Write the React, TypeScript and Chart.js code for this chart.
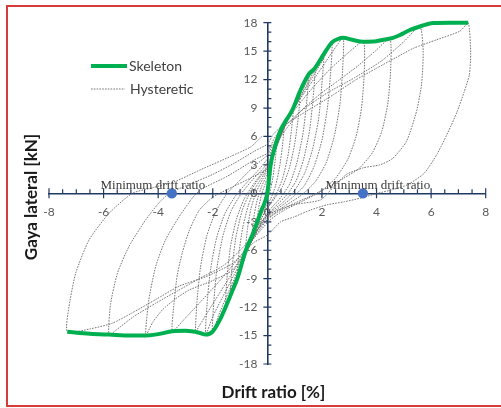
import React, { useEffect, useRef } from "react";
import { Chart, registerables } from "chart.js";

Chart.register(...registerables);

// ---------------- Data ----------------
const skeletonX = [
  -7.33, -6.5, -5.8, -5.0, -4.46, -4.0, -3.48, -3.0, -2.5, -2.26,
  -2.01, -1.75, -1.53, -1.3, -1.1, -0.79, -0.55, -0.37, -0.22, -0.1,
  0, 0.05, 0.12, 0.22, 0.35, 0.46, 0.62, 0.8, 0.95, 1.2,
  1.5, 1.74, 2.05, 2.36, 2.6, 2.78, 3.1, 3.52, 4.0, 4.25,
  4.6, 4.86, 5.2, 5.59, 6.08, 6.7, 7.36,
];
const skeletonY = [
  -14.6, -14.8, -14.9, -15.0, -15.0, -14.85, -14.55, -14.5, -14.7, -14.9,
  -14.6, -13.4, -12.0, -10.4, -9.0, -6.0, -4.4, -3.0, -1.8, -1.0,
  0, 1.2, 3.0, 4.3, 5.6, 6.5, 7.4, 8.2, 9.0, 10.8,
  12.5, 13.2, 14.6, 15.9, 16.3, 16.4, 16.2, 16.0, 16.05, 16.2,
  16.4, 16.7, 17.2, 17.6, 17.97, 18.0, 18.0,
];

type Pt = [number, number];

const loopA: Pt[] = [[0,0],[0.06,1.6],[0.12,3.0],[0.09,1.8],[0.03,0.3],[-0.04,-0.6],[-0.1,-1.0],[-0.14,-1.5],[-0.1,-0.6],[-0.04,0.4],[0,1.0]];
const loopB: Pt[] = [[0,1.0],[0.12,2.6],[0.25,4.3],[0.35,5.6],[0.3,3.8],[0.2,1.6],[0.08,0.0],[-0.08,-1.0],[-0.22,-1.9],[-0.37,-3.0],[-0.32,-1.6],[-0.22,-0.2],[-0.08,1.0],[0,1.6]];
const loopC: Pt[] = [[0,1.6],[0.15,3.3],[0.3,4.8],[0.46,6.2],[0.62,7.4],[0.56,5.2],[0.45,2.8],[0.3,0.8],[0.12,-0.6],[-0.1,-1.6],[-0.3,-2.8],[-0.55,-4.4],[-0.5,-2.6],[-0.38,-0.8],[-0.2,0.8],[0,2.0]];
const loopD: Pt[] = [[0,2.0],[0.25,4.2],[0.5,6.1],[0.72,7.6],[0.95,9.0],[0.88,6.6],[0.75,3.9],[0.56,1.6],[0.35,0.1],[0.1,-1.1],[-0.15,-2.3],[-0.45,-4.0],[-0.79,-6.0],[-0.73,-3.8],[-0.6,-1.6],[-0.4,0.2],[-0.15,1.6],[0.05,2.6]];
const loopE: Pt[] = [[0.05,2.6],[0.35,5.2],[0.65,7.2],[0.95,9.1],[1.2,10.8],[1.14,8.2],[1.0,5.2],[0.8,2.6],[0.55,0.7],[0.25,-0.6],[-0.1,-2.0],[-0.45,-4.0],[-0.8,-6.6],[-1.1,-9.0],[-1.04,-6.3],[-0.9,-3.6],[-0.7,-1.3],[-0.45,0.5],[-0.15,1.9],[0.1,3.0]];
const loopF: Pt[] = [[0.1,3.0],[0.45,5.9],[0.8,8.2],[1.2,10.6],[1.5,12.5],[1.44,9.6],[1.3,6.2],[1.08,3.2],[0.82,1.0],[0.5,-0.4],[0.1,-1.7],[-0.3,-3.4],[-0.7,-5.8],[-1.05,-8.3],[-1.35,-10.7],[-1.29,-7.8],[-1.15,-4.6],[-0.92,-1.8],[-0.62,0.2],[-0.3,1.6],[0,2.7],[0.15,3.4]];
const loopG: Pt[] = [[0.15,3.4],[0.55,6.6],[1.0,9.3],[1.45,11.8],[1.74,13.2],[1.68,10.2],[1.55,6.7],[1.33,3.6],[1.05,1.3],[0.7,-0.2],[0.25,-1.5],[-0.2,-3.0],[-0.6,-5.2],[-1.0,-7.8],[-1.35,-10.3],[-1.53,-12.0],[-1.48,-9.0],[-1.35,-5.6],[-1.13,-2.7],[-0.85,-0.6],[-0.5,1.0],[-0.15,2.3],[0.1,3.3]];
const loopH: Pt[] = [[0.1,3.3],[0.55,6.5],[1.05,9.4],[1.55,12.0],[2.05,14.6],[2.0,11.6],[1.88,7.9],[1.66,4.7],[1.38,2.2],[1.0,0.3],[0.55,-1.0],[0.05,-2.2],[-0.4,-4.0],[-0.85,-6.7],[-1.3,-9.6],[-1.75,-12.6],[-2.01,-14.6],[-1.96,-11.4],[-1.84,-7.7],[-1.62,-4.4],[-1.32,-1.8],[-0.95,0.0],[-0.55,1.4],[-0.1,2.8],[0.1,3.6]];
const loopI: Pt[] = [[0.1,3.6],[0.55,6.6],[1.05,9.3],[1.6,12.0],[2.0,13.9],[2.36,15.9],[2.32,12.8],[2.2,9.0],[2.0,5.6],[1.72,2.9],[1.35,0.8],[0.85,-0.6],[0.3,-1.8],[-0.2,-3.2],[-0.65,-5.4],[-1.15,-8.2],[-1.65,-11.0],[-2.0,-13.0],[-2.26,-14.9],[-2.21,-11.7],[-2.08,-8.0],[-1.86,-4.7],[-1.55,-2.1],[-1.15,-0.2],[-0.7,1.3],[-0.25,2.7],[0.05,3.8]];
const loopJ: Pt[] = [[0.05,3.8],[0.45,6.4],[0.95,8.9],[1.5,11.2],[2.05,13.5],[2.45,15.2],[2.78,16.4],[2.76,13.2],[2.66,9.4],[2.45,6.0],[2.15,3.2],[1.75,1.2],[1.2,-0.3],[0.6,-1.4],[0.05,-2.6],[-0.45,-4.5],[-1.0,-7.1],[-1.55,-9.6],[-2.05,-11.9],[-2.5,-14.0],[-2.63,-14.6],[-2.58,-11.5],[-2.45,-7.8],[-2.22,-4.5],[-1.9,-2.0],[-1.5,-0.1],[-1.0,1.4],[-0.5,2.8],[0,4.0]];
const loopK: Pt[] = [[0,4.0],[0.45,6.4],[1.0,8.8],[1.65,11.1],[2.3,13.1],[2.95,14.8],[3.52,16.0],[3.55,12.8],[3.45,9.0],[3.25,6.0],[2.95,3.6],[2.5,1.6],[1.95,0.2],[1.3,-0.8],[0.6,-1.8],[0.1,-2.8],[-0.45,-4.6],[-1.1,-7.0],[-1.8,-9.4],[-2.5,-11.6],[-3.05,-13.3],[-3.48,-14.55],[-3.42,-11.6],[-3.3,-8.6],[-3.11,-6.2],[-2.87,-4.0],[-2.5,-1.8],[-2.0,-0.4],[-1.47,0.4],[-0.49,1.8],[0,2.6],[0.1,3.2]];
const loopL: Pt[] = [[0.1,3.2],[0.5,6.0],[1.2,8.6],[1.9,10.4],[2.6,11.9],[3.3,13.4],[3.95,15.0],[4.49,16.3],[4.52,13.2],[4.42,9.6],[4.2,6.6],[3.85,4.3],[3.35,2.6],[2.8,1.6],[2.2,0.6],[1.5,-0.4],[0.8,-1.3],[0.2,-2.3],[-0.35,-3.8],[-0.8,-6.0],[-1.28,-8.1],[-2.0,-9.2],[-2.87,-10.2],[-3.4,-11.2],[-3.85,-12.3],[-4.2,-13.6],[-4.46,-15.0],[-4.34,-11.2],[-4.09,-7.7],[-3.73,-4.9],[-3.24,-2.5],[-2.75,-0.5],[-2.44,0.4],[-1.47,1.8],[-0.49,3.5],[0,4.2]];
const loopM: Pt[] = [[0,4.2],[0.3,6.0],[1.2,8.6],[2.2,10.6],[3.2,12.2],[4.2,14.0],[5.0,16.0],[5.59,17.6],[5.71,15.0],[5.65,11.5],[5.47,8.7],[5.1,5.5],[4.6,3.7],[4.12,3.0],[3.52,2.7],[2.9,2.0],[2.4,0.6],[1.95,-0.7],[0.97,-1.2],[0.12,-2.1],[-0.3,-3.2],[-0.8,-5.4],[-1.6,-7.6],[-2.5,-9.0],[-3.3,-10.3],[-4.1,-11.6],[-4.9,-13.0],[-5.4,-14.1],[-5.8,-14.9],[-5.74,-11.6],[-5.49,-8.4],[-5.07,-5.6],[-4.46,-2.8],[-3.97,-1.0],[-3.6,0.0],[-2.9,0.9],[-2.0,2.0],[-1.2,3.2],[-0.5,4.4],[0,5.2],[0.2,6.2]];
const loopN: Pt[] = [[0.2,6.2],[0.46,6.9],[1.4,8.6],[2.42,10.4],[3.2,11.9],[4.0,13.2],[4.7,14.3],[5.35,15.3],[6.2,16.2],[7.05,17.1],[7.36,18.0],[7.45,14.8],[7.4,12.5],[7.2,10.6],[6.95,8.6],[6.71,7.0],[6.23,4.2],[5.74,2.1],[5.13,0.9],[4.6,0.4],[4.03,0.0],[3.42,-0.5],[2.8,-0.9],[2.2,-1.2],[1.59,-1.75],[0.97,-2.5],[0.49,-3.0],[0,-4.4],[-0.5,-5.2],[-1.28,-7.4],[-2.26,-8.8],[-3.24,-9.8],[-4.09,-11.2],[-4.95,-12.6],[-5.68,-13.7],[-6.5,-14.3],[-7.33,-14.6],[-7.27,-12.0],[-7.02,-8.4],[-6.53,-4.9],[-5.8,-2.1],[-4.95,0.0],[-4.2,0.6],[-3.42,1.2],[-2.44,2.5],[-1.34,3.9],[-0.61,4.9],[-0.2,6.0]];

const hystereticLoops = [loopA, loopB, loopC, loopD, loopE, loopF, loopG, loopH, loopI, loopJ, loopK, loopL, loopM, loopN];

const minDriftX = [-3.5, 3.5];
const minDriftY = [0, 0];

const xMin = -8, xMax = 8, xStep = 2, xMinorStep = 0.5;
const yMin = -18, yMax = 18, yStep = 3, yMinorStep = 1;

const legendLabels = ["Skeleton", "Hysteretic"];
const minDriftLabel = "Minimum drift ratio";
const xTitle = "Drift ratio [%]";
const yTitle = "Gaya lateral [kN]";

// ---------------- Styles ----------------
const AXIS_COLOR = "#203864";
const TICK_TEXT = "#595959";
const SKELETON_COLOR = "#00B050";
const HYST_COLOR = "#666666";
const POINT_COLOR = "#4472C4";

const decorPlugin = {
  id: "decor",
  beforeDraw(chart: any) {
    const { ctx, width, height } = chart;
    ctx.save();
    ctx.fillStyle = "#ffffff";
    ctx.fillRect(0, 0, width, height);
    ctx.strokeStyle = "#d63c3c";
    ctx.lineWidth = 2;
    ctx.strokeRect(7, 6, width + 20, 400);
    ctx.restore();
  },
  beforeDatasetsDraw(chart: any) {
    const { ctx } = chart;
    const xs = chart.scales.x;
    const ys = chart.scales.y;
    const x0 = xs.getPixelForValue(0);
    const y0 = ys.getPixelForValue(0);
    ctx.save();
    ctx.strokeStyle = AXIS_COLOR;
    ctx.lineWidth = 1.2;
    ctx.beginPath();
    const nx = Math.round((xMax - xMin) / xMinorStep);
    for (let i = 0; i <= nx; i++) {
      const v = xMin + i * xMinorStep;
      const px = xs.getPixelForValue(v);
      const major = Math.abs(v / xStep - Math.round(v / xStep)) < 1e-6;
      if (major) {
        ctx.moveTo(px, y0 - 5);
        ctx.lineTo(px, y0 + 5);
      } else {
        ctx.moveTo(px, y0 - 4);
        ctx.lineTo(px, y0);
      }
    }
    const ny = Math.round((yMax - yMin) / yMinorStep);
    for (let i = 0; i <= ny; i++) {
      const v = yMin + i * yMinorStep;
      const py = ys.getPixelForValue(v);
      const major = Math.abs(v / yStep - Math.round(v / yStep)) < 1e-6;
      if (major) {
        ctx.moveTo(x0 - 4, py);
        ctx.lineTo(x0 + 4, py);
      } else {
        ctx.moveTo(x0, py);
        ctx.lineTo(x0 + 4, py);
      }
    }
    ctx.stroke();

    ctx.fillStyle = TICK_TEXT;
    ctx.font = "12px Lato, 'Open Sans', sans-serif";
    ctx.textAlign = "center";
    ctx.textBaseline = "middle";
    xs.ticks.forEach((t: any) => {
      ctx.fillText(String(t.label), xs.getPixelForValue(t.value), y0 + 19);
    });
    ctx.textAlign = "right";
    ys.ticks.forEach((t: any) => {
      ctx.fillText(String(t.label), x0 - 10, ys.getPixelForValue(t.value));
    });
    ctx.restore();
  },
  afterDatasetsDraw(chart: any) {
    const { ctx } = chart;
    const xs = chart.scales.x;
    const ys = chart.scales.y;
    ctx.save();
    // Minimum drift ratio labels
    ctx.fillStyle = "#3a3a3a";
    ctx.font = "13px 'Liberation Serif', 'Times New Roman', serif";
    ctx.textAlign = "center";
    ctx.textBaseline = "alphabetic";
    const offsets = [-19, 15];
    minDriftX.forEach((v, i) => {
      const px = xs.getPixelForValue(v) + offsets[i];
      const py = ys.getPixelForValue(minDriftY[i]) - 4;
      ctx.fillText(minDriftLabel, px, py);
    });

    // Legend
    ctx.textAlign = "left";
    ctx.textBaseline = "middle";
    ctx.font = "14px Lato, 'Open Sans', sans-serif";
    ctx.fillStyle = "#404040";
    ctx.strokeStyle = SKELETON_COLOR;
    ctx.lineWidth = 4;
    ctx.beginPath();
    ctx.moveTo(91, 66);
    ctx.lineTo(127, 66);
    ctx.stroke();
    ctx.fillText(legendLabels[0], 129, 66);
    ctx.strokeStyle = HYST_COLOR;
    ctx.lineWidth = 0.9;
    ctx.setLineDash([1.6, 1.2]);
    ctx.beginPath();
    ctx.moveTo(91, 89);
    ctx.lineTo(125, 89);
    ctx.stroke();
    ctx.setLineDash([]);
    ctx.fillText(legendLabels[1], 130, 89);

    // Axis titles
    ctx.fillStyle = "#1a1a1a";
    ctx.font = "bold 17px Lato, 'Open Sans', sans-serif";
    ctx.textAlign = "center";
    ctx.textBaseline = "middle";
    ctx.fillText(xTitle, 273.5, 393);
    ctx.translate(32, 197);
    ctx.rotate(-Math.PI / 2);
    ctx.fillText(yTitle, 0, 0);
    ctx.restore();
  },
};

export default function App() {
  const ref = useRef<HTMLCanvasElement>(null);

  useEffect(() => {
    if (!ref.current) return;
    const skeletonPts = skeletonX.map((x, i) => ({ x, y: skeletonY[i] }));
    const hystPts = hystereticLoops.flat().map(([x, y]) => ({ x, y }));
    const minPts = minDriftX.map((x, i) => ({ x, y: minDriftY[i] }));

    const chart = new Chart(ref.current, {
      type: "scatter",
      data: {
        datasets: [
          {
            label: minDriftLabel,
            data: minPts,
            showLine: false,
            pointRadius: 5.2,
            pointBackgroundColor: POINT_COLOR,
            pointBorderColor: POINT_COLOR,
            pointBorderWidth: 0,
            order: 0,
          },
          {
            label: legendLabels[0],
            data: skeletonPts,
            showLine: true,
            borderColor: SKELETON_COLOR,
            borderWidth: 4,
            pointRadius: 0,
            tension: 0.4,
            cubicInterpolationMode: "monotone",
            clip: 10,
            order: 1,
          },
          {
            label: legendLabels[1],
            data: hystPts,
            showLine: true,
            borderColor: HYST_COLOR,
            borderWidth: 0.9,
            borderDash: [1.6, 1.2],
            pointRadius: 0,
            tension: 0.2,
            clip: 10,
            order: 2,
          },
        ] as any,
      },
      options: {
        animation: false,
        responsive: false,
        events: [],
        layout: { padding: { left: 49, right: 15.3, top: 22.7, bottom: 44 } },
        plugins: { legend: { display: false }, tooltip: { enabled: false } },
        scales: {
          x: {
            type: "linear",
            position: { y: 0 } as any,
            min: xMin,
            max: xMax,
            ticks: { stepSize: xStep, display: false },
            grid: { display: false, drawTicks: false },
            border: { display: true, color: AXIS_COLOR, width: 1.6 },
          },
          y: {
            type: "linear",
            position: { x: 0 } as any,
            min: yMin,
            max: yMax,
            ticks: { stepSize: yStep, display: false },
            grid: { display: false, drawTicks: false },
            border: { display: true, color: AXIS_COLOR, width: 1.6 },
          },
        },
      } as any,
      plugins: [decorPlugin],
    });
    return () => chart.destroy();
  }, []);

  return (
    <div style={{ position: "absolute", left: 0, top: 0, width: 501, height: 408, background: "#fff" }}>
      <canvas ref={ref} width={501} height={408} style={{ display: "block" }} />
    </div>
  );
}
